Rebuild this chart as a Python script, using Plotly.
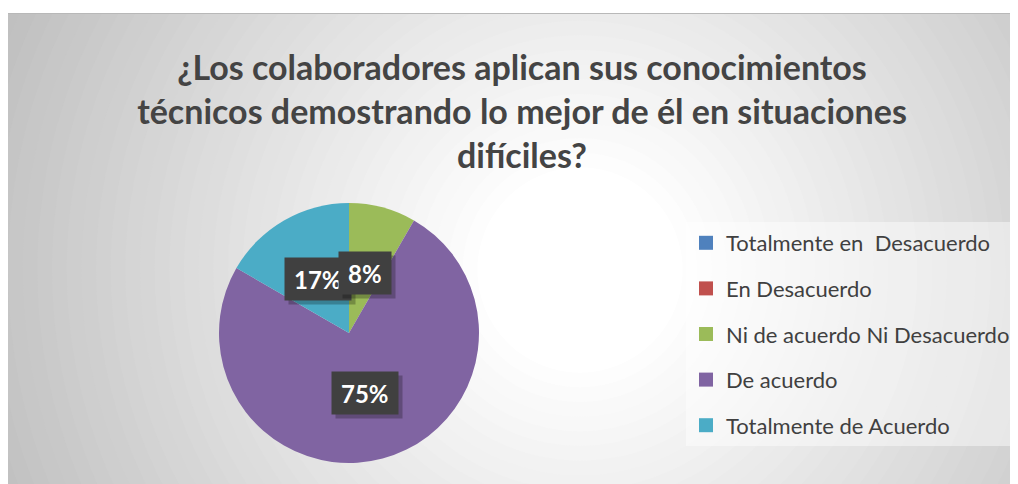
import math
import plotly.graph_objects as go

W, H = 1018, 484
OFF = 8  # the page body margin moves the figure 8px right and down

# data
categories = [
    "Totalmente en  Desacuerdo",
    "En Desacuerdo",
    "Ni de acuerdo Ni Desacuerdo",
    "De acuerdo",
    "Totalmente de Acuerdo",
]
counts = [0, 0, 1, 9, 2]
colors = ["#4F81BD", "#C0504D", "#9BBB59", "#8064A2", "#4BACC6"]

TITLE = ("¿Los colaboradores aplican sus conocimientos<br>"
         "técnicos demostrando lo mejor de él en situaciones<br>"
         "difíciles?")

# pie placement in page pixels
CX, CY, R = 349, 333, 130


def px_x(x):
    return (x - OFF) / W


def px_y(y):
    return 1 - (y - OFF) / H


fig = go.Figure()

fig.add_trace(go.Pie(
    labels=categories,
    values=counts,
    marker=dict(colors=colors, line=dict(width=0)),
    sort=False,
    direction="clockwise",
    rotation=0,
    textinfo="none",
    hoverinfo="label+percent",
    showlegend=False,
    domain=dict(x=[px_x(CX - R), px_x(CX + R)], y=[px_y(CY + R), px_y(CY - R)]),
))

# legend entries as dummy traces so the gap between items can be set
for name, col in zip(categories, colors):
    fig.add_trace(go.Scatter(
        x=[None], y=[None], mode="markers", name=name, legendgroup=name,
        marker=dict(symbol="square", size=14, color=col),
    ))

# percentage labels in dark boxes, placed from the slice mid angles
total = sum(counts)
cum = 0
label_order = []
for v in counts:
    if v > 0:
        mid = (cum + v / 2) / total * 2 * math.pi
        label_order.append((v, mid))
    cum += v
label_order.sort(key=lambda t: -t[1])  # draw 8% last so it sits on top
for v, mid in label_order:
    lx = CX + 0.48 * R * math.sin(mid)
    ly = CY - 0.48 * R * math.cos(mid)
    txt = f"<b>{round(v / total * 100)}%</b>"
    # soft shadow
    fig.add_annotation(
        x=px_x(lx + 4), y=px_y(ly + 4), xref="paper", yref="paper",
        xanchor="center", yanchor="middle",
        text=txt, showarrow=False,
        font=dict(family="Lato", size=24, color="rgba(0,0,0,0)"),
        bgcolor="rgba(0,0,0,0.25)", height=24, borderpad=9,
    )
    fig.add_annotation(
        x=px_x(lx), y=px_y(ly), xref="paper", yref="paper",
        xanchor="center", yanchor="middle",
        text=txt, showarrow=False,
        font=dict(family="Lato", size=24, color="white"),
        bgcolor="#404040", height=24, borderpad=9,
    )

# radial grey background of the chart area
shapes = []
CGX, CGY, RMAX = 580, 270, 660
n = 45
for i in range(n, 0, -1):
    r = RMAX * i / n
    t = r / RMAX
    f = max(0.0, (t - 0.15) / 0.85)
    g = int(round(255 - (255 - 188) * f))
    shapes.append(dict(
        type="circle", xref="paper", yref="paper", layer="below",
        x0=px_x(CGX - r), x1=px_x(CGX + r), y0=px_y(CGY + r), y1=px_y(CGY - r),
        fillcolor=f"rgb({g},{g},{g})", line=dict(width=0),
    ))
# white strip above the chart frame
shapes.append(dict(type="rect", xref="paper", yref="paper", layer="below",
                   x0=-0.1, x1=1.1, y0=px_y(13), y1=1.1,
                   fillcolor="white", line=dict(width=0)))
shapes.append(dict(type="line", xref="paper", yref="paper", layer="below",
                   x0=-0.1, x1=1.1, y0=px_y(13.5), y1=px_y(13.5),
                   line=dict(color="#b8b8b8", width=1)))

fig.update_layout(
    width=W, height=H,
    margin=dict(l=0, r=0, t=0, b=0),
    paper_bgcolor="#c2c2c2",
    plot_bgcolor="rgba(0,0,0,0)",
    shapes=shapes,
    title=dict(
        text=f"<b>{TITLE}</b>", x=px_x(522), xanchor="center",
        y=px_y(80), yanchor="top", yref="paper",
        font=dict(family="Lato", size=34, color="#444444"),
    ),
    xaxis=dict(visible=False),
    yaxis=dict(visible=False),
    legend=dict(
        x=px_x(686), y=px_y(222), xanchor="left", yanchor="top",
        bgcolor="rgba(255,255,255,0.45)",
        font=dict(family="Lato", size=22, color="#404040"),
        tracegroupgap=14, itemclick=False,
    ),
    showlegend=True,
)

fig.write_html("out.html")
